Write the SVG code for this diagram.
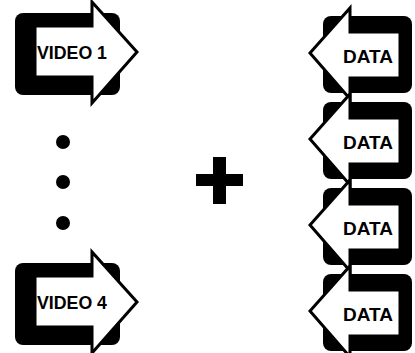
<svg xmlns="http://www.w3.org/2000/svg" xmlns:xlink="http://www.w3.org/1999/xlink" width="415" height="353" viewBox="0 0 415 353">
<style>
.box{fill:#000}
.arr{fill:#fff;stroke:#000;stroke-width:3;stroke-linejoin:miter;stroke-miterlimit:10}
.lbl{font-family:"Liberation Sans",Arial,sans-serif;font-weight:bold;font-size:19px;fill:#000;text-anchor:middle}
.dot{fill:#000}
</style>
<defs>
<g id="videoIcon">
<rect class="box" x="15" y="13" width="105" height="82" rx="8"/>
<polygon class="arr" points="35,26 92,26 92,2 137,52 92,103 92,77 35,77"/>
</g>
<g id="dataIcon">
<rect class="box" x="323" y="-37" width="89" height="77" rx="8"/>
<polygon class="arr" points="400,-21 350,-21 350,-45 310,0 350,46 350,25 400,25"/>
</g>
</defs>
<g id="video1">
<use xlink:href="#videoIcon"/>
<text class="lbl" x="72" y="59" textLength="70" lengthAdjust="spacingAndGlyphs">VIDEO 1</text>
</g>
<g id="video4" transform="translate(0,250)">
<use xlink:href="#videoIcon"/>
<text class="lbl" x="72" y="59" textLength="70" lengthAdjust="spacingAndGlyphs">VIDEO 4</text>
</g>
<g id="ellipsis">
<circle class="dot" cx="63" cy="142" r="7"/>
<circle class="dot" cx="63" cy="182" r="7"/>
<circle class="dot" cx="63" cy="223" r="7"/>
</g>
<g id="plus">
<rect class="dot" x="196" y="174" width="47" height="12"/>
<rect class="dot" x="213" y="157" width="13" height="47"/>
</g>
<g id="data1" transform="translate(0,53)">
<use xlink:href="#dataIcon"/>
<text class="lbl" x="368" y="10">DATA</text>
</g>
<g id="data2" transform="translate(0,139)">
<use xlink:href="#dataIcon"/>
<text class="lbl" x="368" y="10">DATA</text>
</g>
<g id="data3" transform="translate(0,225)">
<use xlink:href="#dataIcon"/>
<text class="lbl" x="368" y="10">DATA</text>
</g>
<g id="data4" transform="translate(0,311)">
<use xlink:href="#dataIcon"/>
<text class="lbl" x="368" y="10">DATA</text>
</g>
<g id="connectors"/>
</svg>
